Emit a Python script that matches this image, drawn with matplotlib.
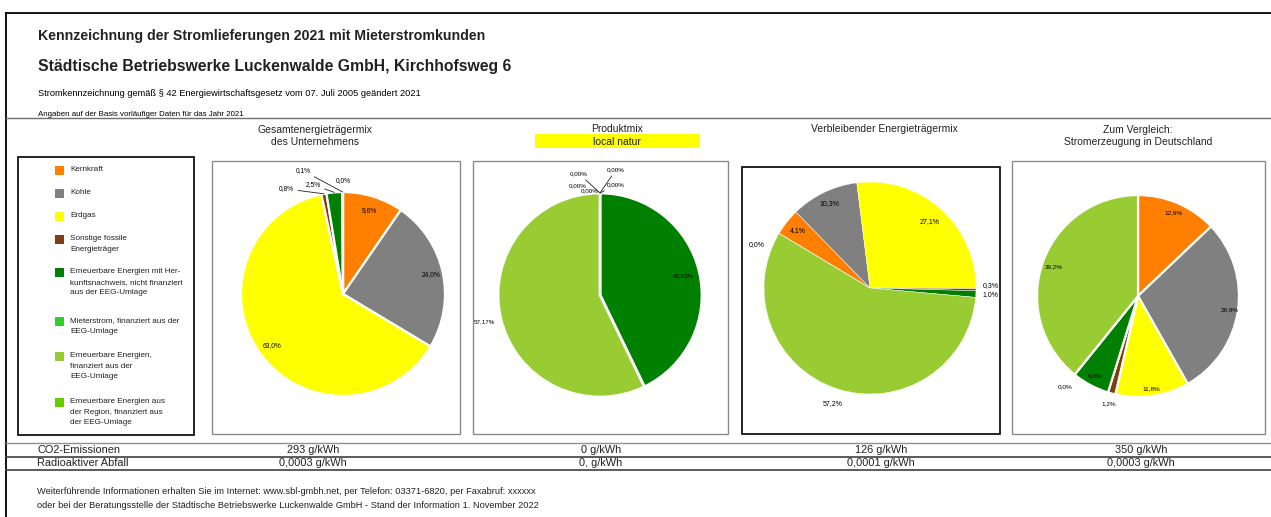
import numpy as np
import matplotlib.pyplot as plt
from matplotlib.patches import Rectangle
from matplotlib import font_manager

W, H = 1271, 517
plt.rcParams['font.family'] = ['Liberation Sans', 'DejaVu Sans']

# narrow font for the small texts, if installed
names = {f.name for f in font_manager.fontManager.ttflist}
NARROW = ['Liberation Sans Narrow', 'Liberation Sans'] if 'Liberation Sans Narrow' in names else ['Liberation Sans']

# legend categories and colours
categories = ['Kernkraft', 'Kohle', 'Erdgas', 'Sonstige fossile\nEnergieträger',
              'Erneuerbare Energien mit Her-\nkunftsnachweis, nicht finanziert\naus der EEG-Umlage',
              'Mieterstrom, finanziert aus der\nEEG-Umlage',
              'Erneuerbare Energien,\nfinanziert aus der\nEEG-Umlage',
              'Erneuerbare Energien aus\nder Region, finanziert aus\nder EEG-Umlage']
cat_colors = ['#FF7F00', '#808080', '#FFFF00', '#7F3F10', '#007F00', '#33CC33', '#99CC33', '#66CC00']

# pie data (clockwise order, category index per slice)
unternehmen_cats = [0, 1, 2, 3, 4, 5, 6]
unternehmen_vals = [9.6, 24.0, 63.0, 0.8, 2.5, 0.1, 0.0]

produkt_cats = [0, 1, 2, 3, 5, 4, 6]
produkt_vals = [0.0, 0.0, 0.0, 0.0, 0.0, 42.83, 57.17]

verbleib_cats = [0, 1, 2, 3, 4, 6, 7]
verbleib_vals = [4.1, 10.3, 27.1, 0.3, 1.0, 57.2, 0.0]

deutschland_cats = [0, 1, 2, 3, 4, 5, 6]
deutschland_vals = [12.9, 28.9, 11.8, 1.2, 6.0, 0.0, 39.2]

co2_values = ['293 g/kWh', '0 g/kWh', '126 g/kWh', '350 g/kWh']
abfall_values = ['0,0003 g/kWh', '0, g/kWh', '0,0001 g/kWh', '0,0003 g/kWh']

fig = plt.figure(figsize=(W / 100, H / 100), dpi=100)
bg = fig.add_axes([0, 0, 1, 1])
bg.set_xlim(0, W)
bg.set_ylim(H, 0)
bg.axis('off')

# frame and header
bg.plot([6, W], [13, 13], color='black', lw=1.3)
bg.plot([6, 6], [13, H], color='black', lw=1.3)
bg.plot([6, W], [118, 118], color='#707070', lw=1.0)

bg.text(38, 36, 'Kennzeichnung der Stromlieferungen 2021 mit Mieterstromkunden',
        fontsize=10.2, fontweight='bold', va='center', color='#222222')
bg.text(38, 66, 'Städtische Betriebswerke Luckenwalde GmbH, Kirchhofsweg 6',
        fontsize=11.3, fontweight='bold', va='center', color='#222222')
bg.text(38, 94, 'Stromkennzeichnung gemäß § 42 Energiewirtschaftsgesetz vom 07. Juli 2005 geändert 2021',
        fontsize=6.7, va='center', family=NARROW)
bg.text(38, 114, 'Angaben auf der Basis vorläufiger Daten für das Jahr 2021',
        fontsize=5.7, va='center', family=NARROW)

# column titles
bg.text(315, 136, 'Gesamtenergieträgermix\ndes Unternehmens', fontsize=7.5, ha='center',
        va='center', linespacing=1.3, color='#222222')
bg.add_patch(Rectangle((535, 134), 165, 14, facecolor='#FFFF00', edgecolor='none'))
bg.text(617, 129, 'Produktmix', fontsize=7.5, ha='center', va='center', color='#222222')
bg.text(617, 142, 'local natur', fontsize=7.5, ha='center', va='center', color='#222222')
bg.text(884, 129, 'Verbleibender Energieträgermix', fontsize=7.5, ha='center', va='center', color='#222222')
bg.text(1138, 136, 'Zum Vergleich:\nStromerzeugung in Deutschland', fontsize=7.5, ha='center',
        va='center', linespacing=1.3, color='#222222')

# chart frames
bg.add_patch(Rectangle((212, 161), 248, 273, facecolor='none', edgecolor='#8a8a8a', lw=1.0))
bg.add_patch(Rectangle((473, 161), 255, 273, facecolor='none', edgecolor='#8a8a8a', lw=1.0))
bg.add_patch(Rectangle((742, 167), 258, 267, facecolor='none', edgecolor='black', lw=1.2))
bg.add_patch(Rectangle((1012, 161), 253, 273, facecolor='none', edgecolor='#8a8a8a', lw=1.0))

# legend box
bg.add_patch(Rectangle((18, 157), 176, 278, facecolor='none', edgecolor='black', lw=1.2))
legend_y = [171, 194, 217, 240, 273, 322, 357, 403]
for name, col, y in zip(categories, cat_colors, legend_y):
    bg.add_patch(Rectangle((55, y - 5), 9, 9, facecolor=col, edgecolor='none'))
    bg.text(70, y - 5, name, fontsize=5.9, va='top', ha='left', linespacing=1.75,
            family=NARROW, color='#222222')


def fmt(v, d):
    return f'{v:.{d}f}%'.replace('.', ',')


def draw_pie(cx, cy, r_px, vals, cats, start, dec, radii, manual, edge_lw, fs):
    half = 135
    ax = fig.add_axes([(cx - half) / W, 1 - (cy + half) / H, 2 * half / W, 2 * half / H])
    wedges, _ = ax.pie(vals, colors=[cat_colors[c] for c in cats], startangle=start,
                       counterclock=False, radius=1.0,
                       wedgeprops=dict(edgecolor='white', linewidth=edge_lw))
    lim = half / r_px
    ax.set_xlim(-lim, lim)
    ax.set_ylim(-lim, lim)
    ax.axis('off')
    for i, (w, v) in enumerate(zip(wedges, vals)):
        mid = np.deg2rad((w.theta1 + w.theta2) / 2)
        txt = fmt(v, dec)
        if i in manual:
            tx, ty, ha, leader = manual[i]
            if leader:
                ax.annotate(txt, xy=(np.cos(mid), np.sin(mid)), xytext=(tx, ty),
                            ha=ha, va='center', fontsize=fs, family=NARROW,
                            arrowprops=dict(arrowstyle='-', lw=0.6, color='#222222',
                                            shrinkA=1, shrinkB=0))
            else:
                ax.text(tx, ty, txt, ha=ha, va='center', fontsize=fs, family=NARROW)
        else:
            r = radii[i]
            ax.text(r * np.cos(mid), r * np.sin(mid), txt, ha='center', va='center',
                    fontsize=fs, family=NARROW)
    return ax


# Gesamtenergieträgermix des Unternehmens
draw_pie(343, 294, 102, unternehmen_vals, unternehmen_cats, 90, 1,
         [0.86, 0.88, 0.86, 0, 0, 0, 0],
         {3: (-0.48, 1.03, 'right', True), 4: (-0.22, 1.07, 'right', True),
          5: (-0.32, 1.21, 'right', True), 6: (0.0, 1.11, 'center', False)},
         1.6, 4.8)

# Produktmix local natur
draw_pie(600, 295, 102, produkt_vals, produkt_cats, 90, 2,
         [0, 0, 0, 0, 0, 0.84, 1.16],
         {0: (0.07, 1.23, 'left', True), 1: (0.07, 1.08, 'left', True),
          2: (-0.12, 1.19, 'right', True), 3: (-0.13, 1.07, 'right', False),
          4: (-0.10, 1.02, 'center', False)},
         2.0, 4.5)

# Verbleibender Energieträgermix
draw_pie(870, 288, 106, verbleib_vals, verbleib_cats, 149, 1,
         [0.87, 0.88, 0.84, 0, 0, 1.15, 0],
         {3: (1.06, 0.02, 'left', False), 4: (1.06, -0.06, 'left', False),
          6: (-1.07, 0.41, 'center', False)},
         0.3, 5.0)

# Zum Vergleich: Stromerzeugung in Deutschland
draw_pie(1138, 296, 101, deutschland_vals, deutschland_cats, 90, 1,
         [0.9, 0.92, 0.93, 1.11, 0.9, 1.15, 0.88], {}, 1.6, 4.6)

# emissions table
bg.plot([6, W], [443, 443], color='#909090', lw=1.0)
bg.plot([6, W], [456.5, 456.5], color='#404040', lw=1.2)
bg.plot([6, W], [470, 470], color='#404040', lw=1.2)
bg.text(37, 450, 'CO2-Emissionen', fontsize=7.9, va='center', color='#222222')
bg.text(37, 463.5, 'Radioaktiver Abfall', fontsize=7.9, va='center', color='#222222')
col_x = [313, 601, 881, 1141]
for x, a, b in zip(col_x, co2_values, abfall_values):
    bg.text(x, 450, a, fontsize=7.9, ha='center', va='center', color='#222222')
    bg.text(x, 463.5, b, fontsize=7.9, ha='center', va='center', color='#222222')

bg.text(37, 491, 'Weiterführende Informationen erhalten Sie im Internet: www.sbl-gmbh.net, '
        'per Telefon: 03371-6820, per Faxabruf: xxxxxx', fontsize=6.7, va='center', color='#222222')
bg.text(37, 505, 'oder bei der Beratungsstelle der Städtische Betriebswerke Luckenwalde GmbH - '
        'Stand der Information 1. November 2022', fontsize=6.7, va='center', color='#222222')

fig.savefig('out.png', dpi=100)
